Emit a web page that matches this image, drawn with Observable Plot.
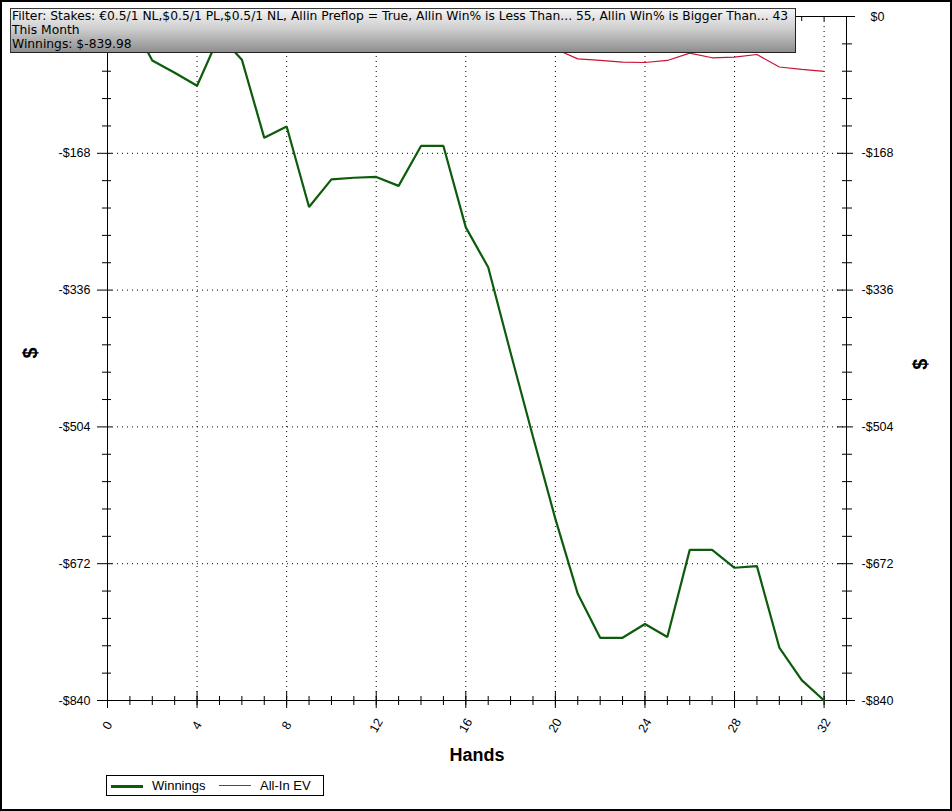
<!DOCTYPE html>
<html>
<head>
<meta charset="utf-8">
<script src="https://cdn.jsdelivr.net/npm/d3@7"></script>
<script src="https://cdn.jsdelivr.net/npm/@observablehq/plot@0.6"></script>
<style>
html, body { margin: 0; padding: 0; background: #fff; }
#wrap { position: relative; width: 952px; height: 811px; overflow: hidden; background: #fff; }
#wrap svg { position: absolute; left: 0; top: 0; }
#border { position: absolute; left: 0; top: 0; width: 952px; height: 811px; box-sizing: border-box; border: 2px solid #000; pointer-events: none; }
#info { position: absolute; left: 10px; top: 8px; width: 786px; height: 45px; box-sizing: border-box;
  border: 1px solid #3a3a3a; border-right-color: #222; border-bottom-color: #222;
  background: linear-gradient(#f4f4f4, #cfcfcf 45%, #8e8e8e);
  font-family: "DejaVu Sans", sans-serif; font-size: 12.3px; line-height: 14px; padding: 0 0 0 1px; color: #000; white-space: nowrap; overflow: hidden; }
#legend { position: absolute; left: 106px; top: 775px; width: 218px; height: 21px; box-sizing: border-box;
  border: 1px solid #000; background: #fff; font-family: "Liberation Sans", Arial, sans-serif; font-size: 13px; color: #000; }
#legend .sw { position: absolute; top: 9px; width: 32px; }
#legend .lb { position: absolute; top: 2px; line-height: 15px; }
</style>
</head>
<body>
<div id="wrap">
  <div id="info"></div>
  <div id="legend"></div>
  <div id="border"></div>
</div>
<script>
// ---- data ----
const hands = [0,1,2,3,4,5,6,7,8,9,10,11,12,13,14,15,16,17,18,19,20,21,22,23,24,25,26,27,28,29,30,31,32];
const winnings = [0,-3,-54,-69,-85,-23,-53,-149,-135,-234,-200,-198,-197,-208,-159,-159,-259,-308,-413,-516,-617,-709,-763,-763,-746,-762,-655,-655,-677,-675,-775,-815,-839.98];
const evHands = [20,21,22,23,24,25,26,27,28,29,30,31,32];
const allInEV = [-40,-52,-54,-56,-56.5,-54,-45,-50.7,-50,-46.7,-62,-65,-67.5];

const xMajorTicks = [0,4,8,12,16,20,24,28,32];
const yMajorTicks = [0,-168,-336,-504,-672,-840];
const seriesNames = ["Winnings","All-In EV"];
const seriesColors = ["#0c5c0c","#cc1133"];
const infoLines = [
  "Filter: Stakes: €0.5/1 NL,$0.5/1 PL,$0.5/1 NL, Allin Preflop = True, Allin Win% is Less Than... 55, Allin Win% is Bigger Than... 43",
  "This Month",
  "Winnings: $-839.98"
];
const xTitle = "Hands";
const yTitle = "$";

// ---- layout ----
const W = 952, H = 811, mL = 107, mR = 106, mT = 16, mB = 111;
const xDom = [0, 33], yDom = [-840, 0];
const kx = (W - mL - mR) / (xDom[1] - xDom[0]);
const ky = (H - mT - mB) / (yDom[1] - yDom[0]);
const xMinorTicks = d3.range(0, 34, 1);
const yMinorTicks = d3.range(0, 26).map(i => -33.6 * i).filter(v => !yMajorTicks.some(m => Math.abs(m - v) < 1e-6));
const fmtY = d => d === 0 ? "$0" : "-$" + Math.abs(d);

const winData = hands.map((h, i) => ({h, v: winnings[i]}));
const evData = evHands.map((h, i) => ({h, v: allInEV[i]}));
const dotted = {stroke: "#000", strokeWidth: 1, strokeDasharray: "1,4"};
const solid = {stroke: "#000", strokeWidth: 1};

const chart = Plot.plot({
  width: W, height: H,
  marginLeft: mL, marginRight: mR, marginTop: mT, marginBottom: mB,
  x: {domain: xDom, axis: null},
  y: {domain: yDom, axis: null},
  style: {fontFamily: "Liberation Sans, Arial, sans-serif", fontSize: "12.5px", background: "transparent", overflow: "visible"},
  marks: [
    // grid
    Plot.ruleX(xMajorTicks.filter(d => d > 0), {x: d => d, ...dotted}),
    Plot.ruleY(yMajorTicks.filter(d => d > -840 && d < 0), {y: d => d, ...dotted}),
    // axis lines
    Plot.ruleX([0, 33], {x: d => d, ...solid}),
    Plot.ruleY([-840, 0], {y: d => d, x1: -10 / kx, x2: 33 + 9 / kx, ...solid}),
    // left ticks
    Plot.ruleY(yMajorTicks, {y: d => d, x1: -10 / kx, x2: 5 / kx, ...solid}),
    Plot.ruleY(yMinorTicks, {y: d => d, x1: -5 / kx, x2: 4 / kx, ...solid}),
    // right ticks
    Plot.ruleY(yMajorTicks, {y: d => d, x1: 33 - 9 / kx, x2: 33 + 7 / kx, ...solid}),
    Plot.ruleY(yMinorTicks, {y: d => d, x1: 33 - 4 / kx, x2: 33 + 6 / kx, ...solid}),
    // bottom ticks
    Plot.ruleX(xMinorTicks, {x: d => d, y1: -840 - 5 / ky, y2: -840 + 4 / ky, ...solid}),
    Plot.ruleX(xMajorTicks, {x: d => d, y1: -840 - 8 / ky, y2: -840 + 9 / ky, ...solid}),
    // top ticks
    Plot.ruleX(xMinorTicks, {x: d => d, y1: 0, y2: -5 / ky, ...solid}),
    // series
    Plot.line(evData, {x: "h", y: "v", stroke: seriesColors[1], strokeWidth: 1.2, strokeLinejoin: "miter"}),
    Plot.line(winData, {x: "h", y: "v", stroke: seriesColors[0], strokeWidth: 2.2, strokeLinejoin: "miter"}),
    // tick labels (the left $0 sits behind the info box in the reference)
    Plot.text(yMajorTicks.filter(d => d < 0), {x: 0, y: d => d, text: fmtY, dx: -33, textAnchor: "middle", fill: "#000"}),
    Plot.text(yMajorTicks, {x: 33, y: d => d, text: fmtY, dx: 31, textAnchor: "middle", fill: "#000"}),
    Plot.text(xMajorTicks, {x: d => d, y: -840, text: d => String(d), dy: 25, rotate: -60, fill: "#000"}),
    // titles
    Plot.text([xTitle], {frameAnchor: "bottom", dy: 60, text: d => d, fontWeight: "bold", fontSize: 18, fill: "#000"}),
    Plot.text([yTitle], {frameAnchor: "left", dx: -77, text: d => d, rotate: -90, fontWeight: "bold", fontSize: 20, fill: "#000"}),
    Plot.text([yTitle], {frameAnchor: "right", dx: 74, text: d => d, rotate: -90, fontWeight: "bold", fontSize: 20, fill: "#000"})
  ]
});
const wrap = document.getElementById("wrap");
wrap.insertBefore(chart, wrap.firstChild);

// info box
const info = document.getElementById("info");
infoLines.forEach(t => { const d = document.createElement("div"); d.textContent = t; info.appendChild(d); });

// legend
const legend = document.getElementById("legend");
const swX = [4, 112], lbX = [45, 153], swH = [3, 1];
seriesNames.forEach((n, i) => {
  const s = document.createElement("div");
  s.className = "sw";
  s.style.left = swX[i] + "px";
  s.style.height = swH[i] + "px";
  s.style.background = seriesColors[i];
  legend.appendChild(s);
  const l = document.createElement("div");
  l.className = "lb";
  l.style.left = lbX[i] + "px";
  l.textContent = n;
  legend.appendChild(l);
});
</script>
</body>
</html>
